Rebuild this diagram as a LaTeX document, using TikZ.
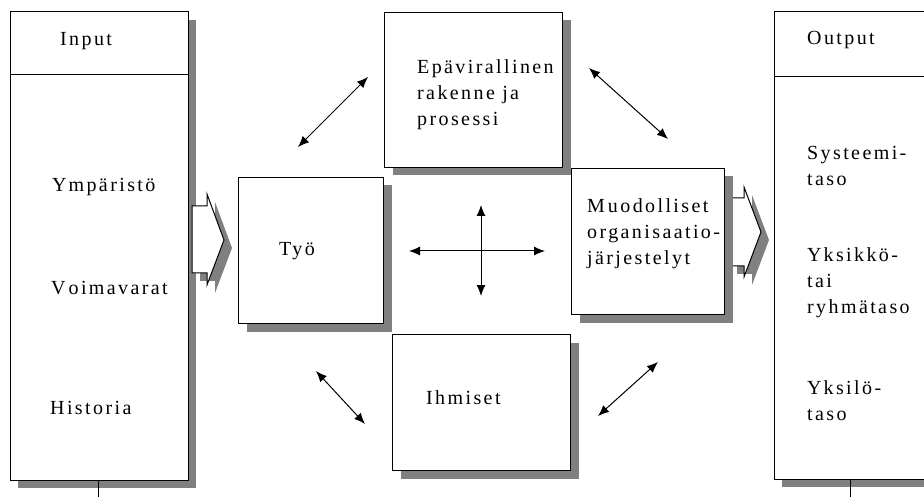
\documentclass[tikz,border=0pt]{standalone}
\usepackage{fontspec}
\setmainfont{Liberation Serif}
\newfontfamily\spacedserif[LetterSpace=12]{Liberation Serif}
\usetikzlibrary{arrows.meta,shadows}
\begin{document}
\begin{tikzpicture}[x=1pt,y=-1pt,
  shade/.style={drop shadow={shadow xshift=8pt,shadow yshift=-8pt,fill=black!50,opacity=1}},
  panel/.style={draw,line width=1pt,fill=white,shade},
  label/.style={font=\spacedserif\fontsize{20}{26}\selectfont,inner sep=0pt,anchor=west,align=left},
  link/.style={line width=1pt,{Latex[length=11pt,width=9pt]}-{Latex[length=11pt,width=9pt]}},
  blockarrow/.style={draw,line width=1pt,fill=white,shade}]
\useasboundingbox (0,0) rectangle (924,497);

% input and output columns
\path[panel] (10,12) rectangle (188,480);
\draw[line width=1pt] (10,75) -- (188,75);
\path[panel] (774,12) rectangle (952,479);
\draw[line width=1pt] (774,77) -- (952,77);
\coordinate (inFoot) at (98,480);
\coordinate (inEnd) at (98,497);
\coordinate (outFoot) at (850,479);
\coordinate (outEnd) at (850,497);
\draw[line width=1pt] (inFoot) -- (inEnd);
\draw[line width=1pt] (outFoot) -- (outEnd);

% flow arrows into and out of the organisation
\path[blockarrow] (192,206) -- (207,206) -- (207,194) -- (224,240) -- (207,285) -- (207,273) -- (192,273) -- cycle;
\path[blockarrow] (729,198) -- (744,198) -- (744,187) -- (761,232) -- (744,277) -- (744,266) -- (729,266) -- cycle;

% the four organisational components
\node[panel,anchor=north west,minimum width=145pt,minimum height=146pt,inner sep=0pt] (tyo) at (238,177) {};
\node[panel,anchor=north west,minimum width=178pt,minimum height=155pt,inner sep=0pt] (epa) at (384,12) {};
\node[panel,anchor=north west,minimum width=153pt,minimum height=146pt,inner sep=0pt] (muod) at (571,168) {};
\node[panel,anchor=north west,minimum width=178pt,minimum height=136pt,inner sep=0pt] (ihm) at (392,334) {};

% texts
\node[label] (tInput) at (60,41) {Input};
\node[label] (tYmp) at (52,187) {Y\kern2pt mpäristö};
\node[label] (tVoim) at (51,288) {V\kern3pt oimavarat};
\node[label] (tHist) at (50,408) {Historia};
\node[label] (tOutput) at (807,40) {Output};
\node[label] (tSys) at (807,166) {Systeemi-\\taso};
\node[label] (tYks) at (807,283) {Y\kern2pt ksikkö-\\tai\\ryhmätaso};
\node[label] (tYksi) at (807,401) {Y\kern2pt ksilö-\\taso};
\node[label] (tEpa) at (417,95) {Epävirallinen\\rakenne ja\\prosessi};
\node[label] (tTyo) at (279,251) {Työ};
\node[label] (tMuod) at (587,234) {M\kern3pt uodolliset\\organisaatio-\\järjestelyt};
\node[label] (tIhm) at (426,398) {Ihmiset};

% interaction arrows
\coordinate (a1) at (298,147); \coordinate (b1) at (368,77);
\coordinate (a2) at (589,68);  \coordinate (b2) at (668,139);
\coordinate (a3) at (316,371); \coordinate (b3) at (365,424);
\coordinate (a4) at (658,362); \coordinate (b4) at (598,416);
\coordinate (cl) at (409,251); \coordinate (cr) at (545,251);
\coordinate (ct) at (481,205); \coordinate (cb) at (481,296);
\draw[link] (a1) -- (b1);
\draw[link] (a2) -- (b2);
\draw[link] (a3) -- (b3);
\draw[link] (a4) -- (b4);
\draw[link] (cl) -- (cr);
\draw[link] (ct) -- (cb);
\end{tikzpicture}
\end{document}
